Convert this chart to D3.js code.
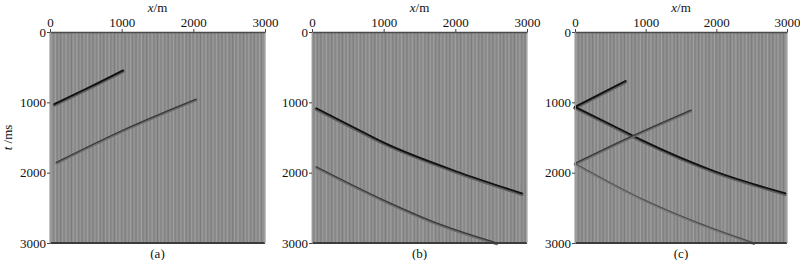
<!DOCTYPE html>
<html>
<head>
<meta charset="utf-8">
<script src="https://cdn.jsdelivr.net/npm/d3@7"></script>
<style>
    body { margin: 0; background: #fff; }
    svg { display: block; }
    svg text { font-family: "Liberation Serif", serif !important; }
</style>
</head>
<body>
<div id="chart"></div>
<script>
// Axis ticks (offset in m, time in ms)
const xTicks = [0, 1000, 2000, 3000];
const tTicks = [0, 1000, 2000, 3000];

// Trace spacing of the gather (m)
const traceStep = 25;

// Panel labels
const panelNames = ['(a)', '(b)', '(c)'];

// Events, [offset m, time ms]
const eventsA = [
    { tone: 'dark', pts: [[60, 1025], [520, 800], [1020, 545]] },
    { tone: 'mid', pts: [[90, 1853], [1008, 1400], [2040, 955]] }
];
const eventsB = [
    { tone: 'dark', pts: [[60, 1085], [627, 1380], [995, 1570], [2068, 2001], [2930, 2295]] },
    { tone: 'mid', pts: [[60, 1916], [1000, 2390], [1800, 2740], [2580, 3000]] }
];
const eventsC = [
    { tone: 'dark', pts: [[0, 1065], [360, 880], [715, 697]] },
    { tone: 'dark', pts: [[0, 1065], [632, 1380], [960, 1545], [1993, 1987], [2980, 2295]] },
    { tone: 'mid', pts: [[0, 1868], [775, 1495], [1642, 1110]] },
    { tone: 'light', pts: [[0, 1868], [986, 2390], [1761, 2721], [2535, 3000]] }
];

const panels = [
    { name: panelNames[0], left: 50, right: 265, events: eventsA, tLabel: true },
    { name: panelNames[1], left: 312, right: 527, events: eventsB, tLabel: false },
    { name: panelNames[2], left: 575, right: 787, events: eventsC, tLabel: false }
];

const plotTop = 32, plotBottom = 243;

const chart = d3.select('#chart')
    .append('svg')
    .attr('width', 800)
    .attr('height', 260);

// Event styles
const toneStyle = {
    dark: { halo: '#5e5e5e', haloW: 3.2, line: '#111', lineW: 1.8 },
    mid: { halo: '#6c6c6c', haloW: 2.4, line: '#3a3a3a', lineW: 1.3 },
    light: { halo: '#7a7a7a', haloW: 2, line: '#4e4e4e', lineW: 1.1 }
};

// Trace shading pattern
const shades = ['#7b7b7b', '#9d9d9d', '#868686', '#a4a4a4', '#808080', '#969696'];

panels.forEach((p, pi) => {
    const x = d3.scaleLinear().domain([0, 3000]).range([p.left, p.right]);
    const y = d3.scaleLinear().domain([0, 3000]).range([plotTop, plotBottom]);

    const g = chart.append('g').attr('class', 'panel');

    // Background
    g.append('rect')
        .attr('x', x(0))
        .attr('y', y(0))
        .attr('width', x(3000) - x(0))
        .attr('height', y(3000) - y(0))
        .attr('fill', '#8d8d8d');

    // Traces
    const traces = d3.range(0, 3001, traceStep);
    g.append('g')
        .selectAll('line')
        .data(traces)
        .join('line')
        .attr('x1', d => x(d))
        .attr('x2', d => x(d))
        .attr('y1', y(0))
        .attr('y2', y(3000))
        .attr('stroke', (d, i) => shades[(i + pi) % shades.length])
        .attr('stroke-width', 0.9);

    // Events
    const line = d3.line()
        .x(d => x(d[0]))
        .y(d => y(d[1]))
        .curve(d3.curveMonotoneX);

    const ev = g.append('g').attr('class', 'events');
    p.events.forEach(e => {
        const s = toneStyle[e.tone];
        ev.append('path')
            .attr('d', line(e.pts))
            .attr('transform', 'translate(0,1)')
            .attr('fill', 'none')
            .attr('stroke', s.halo)
            .attr('stroke-width', s.haloW)
            .attr('stroke-linecap', 'round');
        ev.append('path')
            .attr('d', line(e.pts))
            .attr('fill', 'none')
            .attr('stroke', s.line)
            .attr('stroke-width', s.lineW)
            .attr('stroke-linecap', 'round');
    });

    // Frame lines
    g.append('line')
        .attr('x1', x(0)).attr('x2', x(3000))
        .attr('y1', y(3000)).attr('y2', y(3000))
        .attr('stroke', '#3c3c3c')
        .attr('stroke-width', 2);
    g.append('line')
        .attr('x1', x(3000)).attr('x2', x(3000))
        .attr('y1', y(0)).attr('y2', y(3000))
        .attr('stroke', '#bdbdbd')
        .attr('stroke-width', 1);

    // X axis on top
    const xAxis = g.append('g')
        .attr('transform', `translate(0,${y(0)})`)
        .call(d3.axisTop(x).tickValues(xTicks).tickFormat(d3.format('d'))
            .tickSize(3).tickSizeOuter(0).tickPadding(2));
    xAxis.attr('font-size', 13);
    xAxis.select('.domain').attr('stroke', '#4a4a4a').attr('stroke-width', 1.5);
    xAxis.selectAll('.tick line').attr('stroke', '#444');
    xAxis.selectAll('.tick text').attr('fill', '#111');

    // Y axis
    const yAxis = g.append('g')
        .attr('transform', `translate(${x(0)},0)`)
        .call(d3.axisLeft(y).tickValues(tTicks).tickFormat(d3.format('d'))
            .tickSize(3).tickSizeOuter(0).tickPadding(1));
    yAxis.attr('font-size', 13);
    yAxis.select('.domain').attr('stroke', '#9a9a9a');
    yAxis.selectAll('.tick line').attr('stroke', '#444');
    yAxis.selectAll('.tick text').attr('fill', '#111');

    // X label
    const xl = g.append('text')
        .attr('x', (x(0) + x(3000)) / 2)
        .attr('y', 12)
        .attr('text-anchor', 'middle')
        .attr('font-size', 13)
        .attr('fill', '#111');
    xl.append('tspan').attr('font-style', 'italic').text('x');
    xl.append('tspan').text('/m');

    // Panel name
    g.append('text')
        .attr('x', (x(0) + x(3000)) / 2)
        .attr('y', 258)
        .attr('text-anchor', 'middle')
        .attr('font-size', 13)
        .attr('fill', '#111')
        .text(p.name);

    // T label
    if (p.tLabel) {
        const tl = g.append('text')
            .attr('transform', `translate(12,${(y(0) + y(3000)) / 2}) rotate(-90)`)
            .attr('text-anchor', 'middle')
            .attr('font-size', 13)
            .attr('fill', '#111');
        tl.append('tspan').attr('font-style', 'italic').text('t');
        tl.append('tspan').text(' /ms');
    }
});
</script>
</body>
</html>
